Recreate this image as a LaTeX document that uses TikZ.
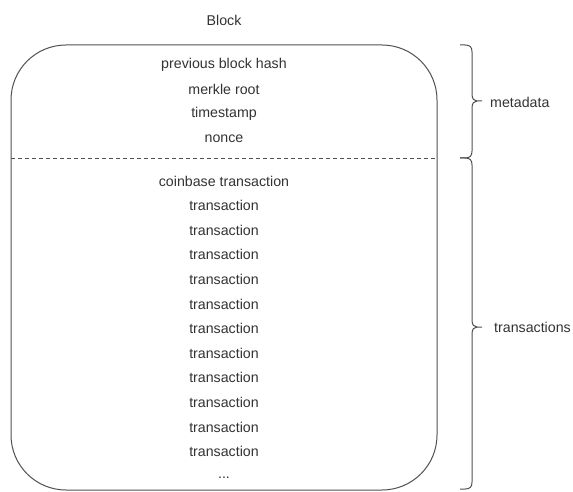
\documentclass[tikz,border=0pt]{standalone}
\usepackage{fontspec}
\setmainfont{Liberation Sans}
\definecolor{ink}{HTML}{333333}
\definecolor{edge}{HTML}{505050}
\tikzset{
  x=1pt, y=-1pt,
  lbl/.style={font=\fontsize{14.2}{16}\selectfont, text=ink, inner sep=0pt},
  frame/.style={draw=edge, line width=1pt, rounded corners=55pt},
  sep/.style={draw=edge, line width=0.9pt, dash pattern=on 4pt off 3pt},
  bracket/.style={draw=edge, line width=1pt, line join=round}
}
% curly bracket on the right: tips at x=460, spine at x=472, point at x=482
\newcommand\sidebracket[3]{%
  \draw[bracket] (460,#1) -- (465,#1) .. controls (470,#1) and (472,#1+2) .. (472,#1+7)
    -- (472,#3-7) .. controls (472,#3-2) and (474,#3) .. (477,#3) -- (482,#3);
  \draw[bracket] (460,#2) -- (465,#2) .. controls (470,#2) and (472,#2-2) .. (472,#2-7)
    -- (472,#3+7) .. controls (472,#3+2) and (474,#3) .. (477,#3);
}
\begin{document}
\begin{tikzpicture}
\useasboundingbox (0,0) rectangle (573,492);
\fill[white] (0,0) rectangle (573,492);

\node[lbl] (title) at (224,20) {Block};

% block outline and header/body divider
\draw[frame] (11,45) rectangle (437,490);
\coordinate (divl) at (11,158);
\coordinate (divr) at (437,158);
\draw[sep] (divl) -- (divr);

% header fields
\node[lbl] (prev) at (224,65) {previous block hash};
\node[lbl] (merkle) at (224,89) {merkle root};
\node[lbl] (time) at (224,114) {timestamp};
\node[lbl] (nonce) at (224,139) {nonce};

% transaction list
\node[lbl] (coinbase) at (224,181) {coinbase transaction};
\foreach \i in {1,...,11}
  \node[lbl] (tx\i) at (224,181+24.6*\i) {transaction};
\node[lbl] (more) at (224,478) {...};

% brackets with their labels
\sidebracket{45}{158}{101}
\sidebracket{158}{489}{327}
\node[lbl, anchor=west] (meta) at (490,102) {metadata};
\node[lbl, anchor=west] (txs) at (494,327) {transactions};
\end{tikzpicture}
\end{document}
